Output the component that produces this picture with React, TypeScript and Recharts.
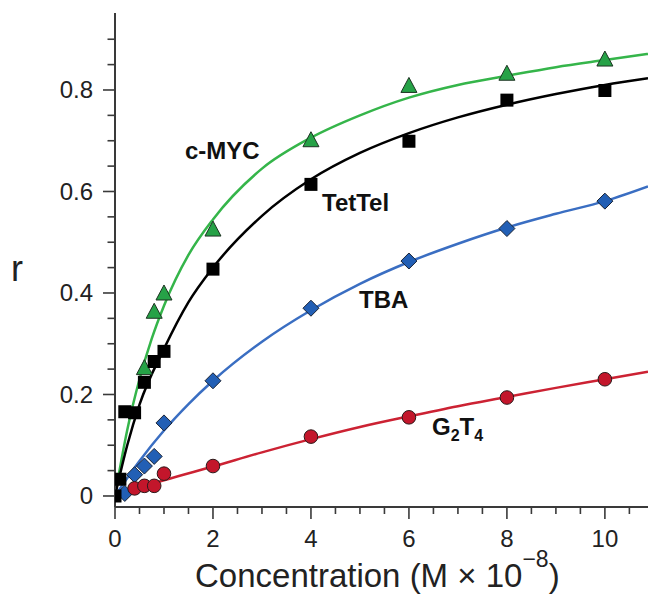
import { ComposedChart, Line, Scatter, XAxis, YAxis } from 'recharts';

const FONT = '"Liberation Sans", Arial, Helvetica, sans-serif';
const AXIS = '#3a3a3a';

// tick values
const xTicks = [0, 0.5, 1, 1.5, 2, 2.5, 3, 3.5, 4, 4.5, 5, 5.5, 6, 6.5, 7, 7.5, 8, 8.5, 9, 9.5, 10, 10.5];
const xMajor = [0, 2, 4, 6, 8, 10];
const yTicks = [0, 0.05, 0.1, 0.15, 0.2, 0.25, 0.3, 0.35, 0.4, 0.45, 0.5, 0.55, 0.6, 0.65, 0.7, 0.75, 0.8, 0.85, 0.9];
const yMajor = [0, 0.2, 0.4, 0.6, 0.8];

// measured points
const cmycPoints = [
  { x: 0.6, y: 0.252 }, { x: 0.8, y: 0.363 }, { x: 1, y: 0.399 }, { x: 2, y: 0.525 },
  { x: 4, y: 0.701 }, { x: 6, y: 0.808 }, { x: 8, y: 0.832 }, { x: 10, y: 0.86 },
];
const tettelPoints = [
  { x: 0, y: 0 }, { x: 0.1, y: 0.033 }, { x: 0.2, y: 0.166 }, { x: 0.4, y: 0.164 },
  { x: 0.6, y: 0.224 }, { x: 0.8, y: 0.265 }, { x: 1, y: 0.285 }, { x: 2, y: 0.447 },
  { x: 4, y: 0.614 }, { x: 6, y: 0.699 }, { x: 8, y: 0.78 }, { x: 10, y: 0.799 },
];
const tbaPoints = [
  { x: 0.2, y: 0.005 }, { x: 0.4, y: 0.042 }, { x: 0.6, y: 0.059 }, { x: 0.8, y: 0.078 },
  { x: 1, y: 0.144 }, { x: 2, y: 0.227 }, { x: 4, y: 0.37 }, { x: 6, y: 0.463 },
  { x: 8, y: 0.527 }, { x: 10, y: 0.581 },
];
const g2t4Points = [
  { x: 0.4, y: 0.015 }, { x: 0.6, y: 0.02 }, { x: 0.8, y: 0.02 }, { x: 1, y: 0.044 },
  { x: 2, y: 0.059 }, { x: 4, y: 0.117 }, { x: 6, y: 0.155 }, { x: 8, y: 0.194 },
  { x: 10, y: 0.23 },
];

// fitted curves
const cmycFit = [
  { x: 0, y: 0 }, { x: 0.25, y: 0.13 }, { x: 0.5, y: 0.23 }, { x: 0.75, y: 0.31 },
  { x: 1, y: 0.375 }, { x: 1.5, y: 0.475 }, { x: 2, y: 0.545 }, { x: 3, y: 0.645 },
  { x: 4, y: 0.706 }, { x: 5, y: 0.75 }, { x: 6, y: 0.785 }, { x: 7, y: 0.81 },
  { x: 8, y: 0.828 }, { x: 9, y: 0.845 }, { x: 10, y: 0.859 }, { x: 10.88, y: 0.871 },
];
const tettelFit = [
  { x: 0, y: 0 }, { x: 0.25, y: 0.1 }, { x: 0.5, y: 0.18 }, { x: 1, y: 0.29 },
  { x: 1.5, y: 0.382 }, { x: 2, y: 0.45 }, { x: 3, y: 0.552 }, { x: 4, y: 0.624 },
  { x: 5, y: 0.676 }, { x: 6, y: 0.715 }, { x: 7, y: 0.746 }, { x: 8, y: 0.771 },
  { x: 9, y: 0.792 }, { x: 10, y: 0.81 }, { x: 10.88, y: 0.823 },
];
const tbaFit = [
  { x: 0, y: 0 }, { x: 0.5, y: 0.069 }, { x: 1, y: 0.129 }, { x: 1.5, y: 0.181 },
  { x: 2, y: 0.227 }, { x: 3, y: 0.304 }, { x: 4, y: 0.366 }, { x: 5, y: 0.418 },
  { x: 6, y: 0.461 }, { x: 7, y: 0.497 }, { x: 8, y: 0.529 }, { x: 9, y: 0.556 },
  { x: 10, y: 0.581 }, { x: 10.88, y: 0.61 },
];
const g2t4Fit = [
  { x: 0, y: 0 }, { x: 1, y: 0.031 }, { x: 2, y: 0.058 }, { x: 3, y: 0.086 },
  { x: 4, y: 0.112 }, { x: 5, y: 0.136 }, { x: 6, y: 0.157 }, { x: 7, y: 0.177 },
  { x: 8, y: 0.195 }, { x: 9, y: 0.213 }, { x: 10, y: 0.23 }, { x: 10.88, y: 0.245 },
];

function XTick({ x, y, payload }: any) {
  const major = xMajor.includes(payload.value);
  return (
    <g>
      <line x1={x} x2={x} y1={y} y2={y + (major ? 12 : 7)} stroke={AXIS} strokeWidth={1.6} />
      {major && (
        <text x={x} y={y + 40} textAnchor="middle" fontSize={24} fontFamily={FONT} fill="#222">
          {payload.value}
        </text>
      )}
    </g>
  );
}

function YTick({ x, y, payload }: any) {
  const major = yMajor.includes(payload.value);
  return (
    <g>
      <line x1={x - (major ? 12 : 7.5)} x2={x} y1={y} y2={y} stroke={AXIS} strokeWidth={1.6} />
      {major && (
        <text x={x - 22} y={y + 8.5} textAnchor="end" fontSize={24} fontFamily={FONT} fill="#222">
          {payload.value === 0 ? '0' : payload.value.toFixed(1)}
        </text>
      )}
    </g>
  );
}

const Triangle = ({ cx, cy }: any) => (
  <polygon
    points={`${cx},${cy - 8.5} ${cx + 8},${cy + 6.5} ${cx - 8},${cy + 6.5}`}
    fill="#26a247"
    stroke="#1d3322"
    strokeWidth={1}
  />
);
const Square = ({ cx, cy }: any) => <rect x={cx - 6.5} y={cy - 6.5} width={13} height={13} fill="#000" />;
const Diamond = ({ cx, cy }: any) => (
  <polygon
    points={`${cx},${cy - 8} ${cx + 8},${cy} ${cx},${cy + 8} ${cx - 8},${cy}`}
    fill="#225fb5"
    stroke="#1a2436"
    strokeWidth={1}
  />
);
const Dot = ({ cx, cy }: any) => <circle cx={cx} cy={cy} r={6.8} fill="#c3162b" stroke="#2a1a1a" strokeWidth={1} />;

export default function App() {
  return (
    <div style={{ position: 'absolute', left: 0, top: 0, width: 648, height: 604, background: '#fff' }}>
      <ComposedChart width={648} height={604} margin={{ top: 13, right: 0, bottom: 0, left: 0 }}>
        <XAxis
          dataKey="x"
          type="number"
          domain={[0, 10.88]}
          ticks={xTicks}
          interval={0}
          allowDataOverflow
          height={97}
          tickSize={0}
          tickMargin={0}
          tick={<XTick />}
          tickLine={false}
          axisLine={{ stroke: AXIS, strokeWidth: 2 }}
        />
        <XAxis
          xAxisId="top"
          orientation="top"
          type="number"
          domain={[0, 10.88]}
          height={0}
          tick={false}
          tickLine={false}
          axisLine={{ stroke: '#000', strokeWidth: 2 }}
        />
        <YAxis
          dataKey="y"
          type="number"
          domain={[-0.0217, 0.9517]}
          ticks={yTicks}
          interval={0}
          allowDataOverflow
          width={115}
          tickSize={0}
          tickMargin={0}
          tick={<YTick />}
          tickLine={false}
          axisLine={{ stroke: AXIS, strokeWidth: 2 }}
        />
        <Line data={cmycFit} dataKey="y" type="monotone" stroke="#35b54a" strokeWidth={2.5} dot={false} isAnimationActive={false} />
        <Line data={tettelFit} dataKey="y" type="monotone" stroke="#000" strokeWidth={2.5} dot={false} isAnimationActive={false} />
        <Line data={tbaFit} dataKey="y" type="monotone" stroke="#3a6ec2" strokeWidth={2.5} dot={false} isAnimationActive={false} />
        <Line data={g2t4Fit} dataKey="y" type="monotone" stroke="#cc2233" strokeWidth={2.5} dot={false} isAnimationActive={false} />
        <Scatter data={cmycPoints} dataKey="y" shape={Triangle} isAnimationActive={false} />
        <Scatter data={tbaPoints} dataKey="y" shape={Diamond} isAnimationActive={false} />
        <Scatter data={g2t4Points} dataKey="y" shape={Dot} isAnimationActive={false} />
        <Scatter data={tettelPoints} dataKey="y" shape={Square} isAnimationActive={false} />
      </ComposedChart>
      <svg
        width={648}
        height={604}
        style={{ position: 'absolute', left: 0, top: 0, pointerEvents: 'none' }}
        fontFamily={FONT}
      >
        <text x={185} y={159} fontSize={24} fontWeight="bold" fill="#111">c-MYC</text>
        <text x={322} y={211} fontSize={24} fontWeight="bold" fill="#111">TetTel</text>
        <text x={359} y={308} fontSize={24} fontWeight="bold" fill="#111">TBA</text>
        <text x={432} y={435} fontSize={24} fontWeight="bold" fill="#111">
          G<tspan fontSize={16} dy={6}>2</tspan>
          <tspan dy={-6}>T</tspan>
          <tspan fontSize={16} dy={6}>4</tspan>
        </text>
        <text x={17} y={281} fontSize={36} textAnchor="middle" fill="#222">r</text>
        <text x={195} y={587} fontSize={33} fill="#222">
          Concentration (M × 10<tspan fontSize={23} dy={-20}>−8</tspan>
          <tspan dy={20}>)</tspan>
        </text>
      </svg>
    </div>
  );
}
